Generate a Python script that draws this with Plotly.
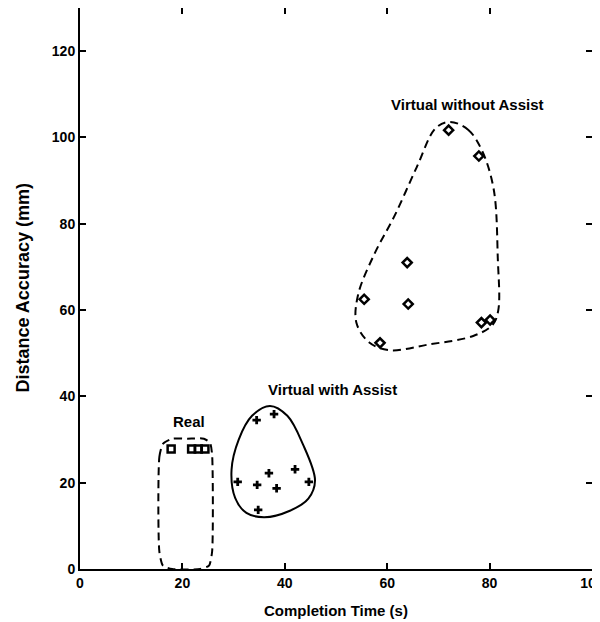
import plotly.graph_objects as go

# Data points
real_x = [17.8, 21.8, 23.1, 24.4]
real_y = [27.8, 27.8, 27.8, 27.8]

assist_x = [34.5, 37.9, 30.8, 34.6, 36.9, 38.4, 42.0, 44.7, 34.8]
assist_y = [34.5, 35.9, 20.2, 19.5, 22.2, 18.7, 23.1, 20.2, 13.7]

noassist_x = [72.0, 77.9, 63.9, 64.1, 55.5, 58.6, 78.4, 80.1]
noassist_y = [101.7, 95.7, 71.0, 61.4, 62.5, 52.4, 57.1, 57.7]

# Enclosure outlines
real_out_x = [15.5, 15.5, 16.2, 18.0, 21.0, 24.2, 25.4, 25.8, 25.8, 25.2, 23.5, 18.0, 16.2, 15.5]
real_out_y = [4.0, 26.0, 29.0, 30.2, 30.2, 30.2, 29.2, 26.5, 4.0, 0.8, 0.0, 0.0, 0.8, 4.0]

assist_out_x = [37.1, 40.5, 43.5, 45.9, 44.6, 41.0, 36.0, 32.5, 30.3, 29.6, 31.0, 33.6, 37.1]
assist_out_y = [37.8, 35.5, 29.0, 20.5, 16.3, 13.5, 12.0, 13.0, 16.5, 23.0, 30.0, 35.5, 37.8]

noassist_out_x = [72.3, 75.8, 78.5, 80.8, 81.6, 81.7, 80.6, 76.8, 68.0, 60.5, 56.5, 54.0, 54.3, 57.5, 61.5, 65.8, 69.5, 72.3]
noassist_out_y = [103.6, 101.8, 97.0, 88.0, 72.0, 60.0, 56.6, 54.0, 52.0, 50.7, 52.5, 57.0, 63.5, 73.0, 82.0, 93.2, 102.2, 103.6]

# Labels
labels = ["Real", "Virtual with Assist", "Virtual without Assist"]
label_x = [21.3, 49.4, 75.6]
label_y = [34.2, 41.6, 107.6]

x_ticks = [0, 20, 40, 60, 80, 100]
y_ticks = [0, 20, 40, 60, 80, 100, 120]

FONT = "Arial, Liberation Sans, sans-serif"
dash = "8px,5px"

fig = go.Figure()

fig.add_trace(go.Scatter(x=real_out_x, y=real_out_y, mode="lines",
                         line=dict(color="black", width=2, dash=dash, shape="spline", smoothing=0.6),
                         hoverinfo="skip", showlegend=False))
fig.add_trace(go.Scatter(x=assist_out_x, y=assist_out_y, mode="lines",
                         line=dict(color="black", width=2, shape="spline", smoothing=1.0),
                         hoverinfo="skip", showlegend=False))
fig.add_trace(go.Scatter(x=noassist_out_x, y=noassist_out_y, mode="lines",
                         line=dict(color="black", width=2, dash=dash, shape="spline", smoothing=1.0),
                         hoverinfo="skip", showlegend=False))

fig.add_trace(go.Scatter(x=real_x, y=real_y, mode="markers",
                         marker=dict(symbol="square-open", size=7, color="black", line=dict(width=2.5)),
                         showlegend=False))
fig.add_trace(go.Scatter(x=assist_x, y=assist_y, mode="markers",
                         marker=dict(symbol="cross", size=7, color="black", line=dict(width=0)),
                         showlegend=False))
fig.add_trace(go.Scatter(x=noassist_x, y=noassist_y, mode="markers",
                         marker=dict(symbol="diamond-open", size=7, color="black", line=dict(width=2.5)),
                         showlegend=False))

for t, lx, ly in zip(labels, label_x, label_y):
    fig.add_annotation(x=lx, y=ly, text=t, showarrow=False,
                       font=dict(family=FONT, size=15, color="black", weight="bold"))

fig.add_annotation(x=0.5, y=0, xref="paper", yref="paper", yshift=-41, text="Completion Time (s)",
                   showarrow=False, yanchor="middle",
                   font=dict(family=FONT, size=15, color="black", weight="bold"))
fig.add_annotation(x=0, y=0.5, xref="paper", yref="paper", xshift=-58, text="Distance Accuracy (mm)",
                   showarrow=False, textangle=-90, xanchor="center",
                   font=dict(family=FONT, size=18, color="black", weight="bold"))

axis_common = dict(showgrid=False, zeroline=False, showline=True, linecolor="black", linewidth=2,
                   mirror="ticks", ticks="inside", ticklen=6, tickwidth=2, tickcolor="black",
                   automargin=False, ticklabeloverflow="allow",
                   tickfont=dict(family=FONT, size=14, color="black", weight="bold"))

fig.update_xaxes(range=[0, 100], tickvals=x_ticks, ticktext=[str(v) for v in x_ticks], **axis_common)
fig.update_yaxes(range=[0, 130], tickvals=y_ticks, ticktext=[str(v) for v in y_ticks], **axis_common)

# page body has an 8px default margin, so the figure is sized to fill the rest of the window
fig.update_layout(width=592, height=614, margin=dict(l=72, r=8, t=0, b=53),
                  plot_bgcolor="white", paper_bgcolor="white", showlegend=False)

fig.write_html("out.html")
